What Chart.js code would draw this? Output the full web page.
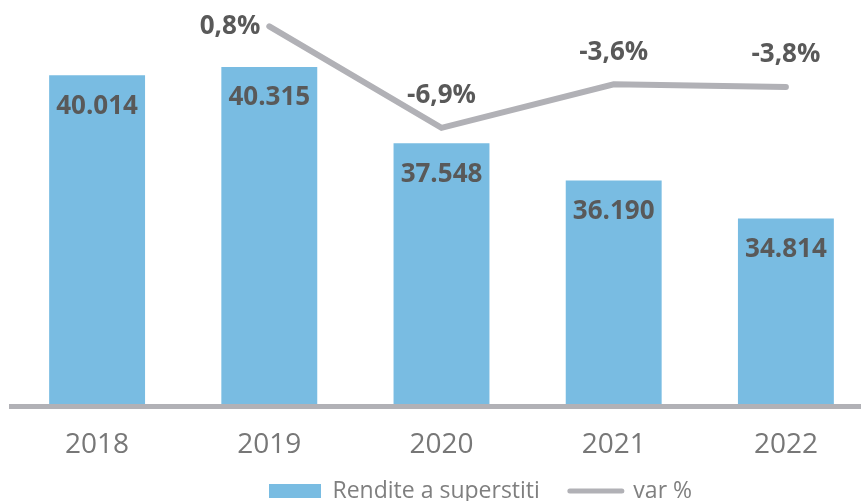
<!DOCTYPE html>
<html>
<head>
<meta charset="utf-8">
<script src="https://cdn.jsdelivr.net/npm/chart.js@4.4.1/dist/chart.umd.min.js"></script>
<style>
    html, body { margin: 0; padding: 0; background: #fff; overflow: hidden; }
    #wrap { position: relative; width: 872px; height: 547px; }
</style>
</head>
<body>
<div id="wrap"><canvas id="superstitiChart"></canvas></div>
<script>
// Dati
const anni = ['2018', '2019', '2020', '2021', '2022'];
const superstiti = [40014, 40315, 37548, 36190, 34814];
const varPerc = [null, 0.8, -6.9, -3.6, -3.8];

const barColor = '#79bce2';
const lineColor = '#b1b1b6';
const labelColor = '#595959';

function formatMigliaia(v) {
    return String(v).replace(/\B(?=(\d{3})+(?!\d))/g, '.');
}

function formatPerc(v) {
    return v.toFixed(1).replace('.', ',') + '%';
}

// Etichette dei valori su barre e linea
const valueLabels = {
    id: 'valueLabels',
    afterDatasetsDraw(chart) {
        const ctx = chart.ctx;
        ctx.save();
        ctx.font = 'bold 26px "Open Sans"';
        ctx.fillStyle = labelColor;
        ctx.textBaseline = 'middle';

        chart.getDatasetMeta(0).data.forEach(function(bar, i) {
            ctx.textAlign = 'center';
            ctx.fillText(formatMigliaia(superstiti[i]), bar.x, bar.y + 31);
        });

        chart.getDatasetMeta(1).data.forEach(function(pt, i) {
            if (varPerc[i] === null) return;
            const text = formatPerc(varPerc[i]);
            if (pt.y - 32 < chart.chartArea.top + 14) {
                // troppo in alto: etichetta a sinistra del punto
                ctx.textAlign = 'right';
                ctx.fillText(text, pt.x - 9, pt.y);
            } else {
                ctx.textAlign = 'center';
                ctx.fillText(text, pt.x, pt.y - 32);
            }
        });
        ctx.restore();
    }
};

// Sposta la legenda dove si trova nell'originale
const legendPlace = {
    id: 'legendPlace',
    afterLayout(chart) {
        const lg = chart.legend;
        const pad = lg.options.labels.padding;
        const h = lg.bottom - lg.top;
        lg.top = 491 - 11.5 - pad;
        lg.bottom = lg.top + h;
        lg.left = 269 - pad;
    }
};

document.addEventListener('DOMContentLoaded', function() {
    Chart.defaults.font.family = '"Open Sans", "DejaVu Sans", sans-serif';

    const ctx = document.getElementById('superstitiChart').getContext('2d');
    new Chart(ctx, {
        data: {
            labels: anni,
            datasets: [{
                type: 'bar',
                label: 'Rendite a superstiti',
                data: superstiti,
                backgroundColor: barColor,
                borderWidth: 0,
                barPercentage: 0.557,
                categoryPercentage: 1,
                yAxisID: 'y'
            }, {
                type: 'line',
                label: 'var %',
                data: varPerc,
                borderColor: lineColor,
                backgroundColor: lineColor,
                borderWidth: 6,
                borderCapStyle: 'round',
                pointRadius: 0,
                tension: 0,
                fill: false,
                yAxisID: 'y1'
            }]
        },
        options: {
            responsive: true,
            maintainAspectRatio: false,
            animation: false,
            layout: {
                padding: { left: 11, right: 0, top: 0, bottom: 0 }
            },
            plugins: {
                tooltip: { enabled: false },
                legend: {
                    display: true,
                    position: 'bottom',
                    align: 'start',
                    labels: {
                        usePointStyle: true,
                        pointStyleWidth: 52,
                        boxHeight: 14,
                        padding: 30,
                        color: '#7f7f7f',
                        font: { size: 23 },
                        generateLabels: function(chart) {
                            return chart.data.datasets.map(function(ds, i) {
                                const isLine = ds.type === 'line';
                                return {
                                    text: ds.label,
                                    fillStyle: ds.backgroundColor,
                                    strokeStyle: isLine ? ds.borderColor : ds.backgroundColor,
                                    lineWidth: isLine ? 5 : 0,
                                    lineCap: 'round',
                                    pointStyle: isLine ? 'line' : 'rect',
                                    fontColor: '#7f7f7f',
                                    hidden: false,
                                    datasetIndex: i
                                };
                            });
                        }
                    }
                }
            },
            scales: {
                x: {
                    grid: { display: false, drawTicks: false },
                    border: { display: true, color: lineColor, width: 5, z: 1 },
                    ticks: {
                        color: '#777777',
                        font: { size: 28 },
                        padding: 22.2
                    }
                },
                y: {
                    display: false,
                    min: 28000,
                    max: 42750
                },
                y1: {
                    display: false,
                    position: 'right',
                    min: -28,
                    max: 2.8
                }
            }
        },
        plugins: [valueLabels, legendPlace]
    });
});
</script>
</body>
</html>
